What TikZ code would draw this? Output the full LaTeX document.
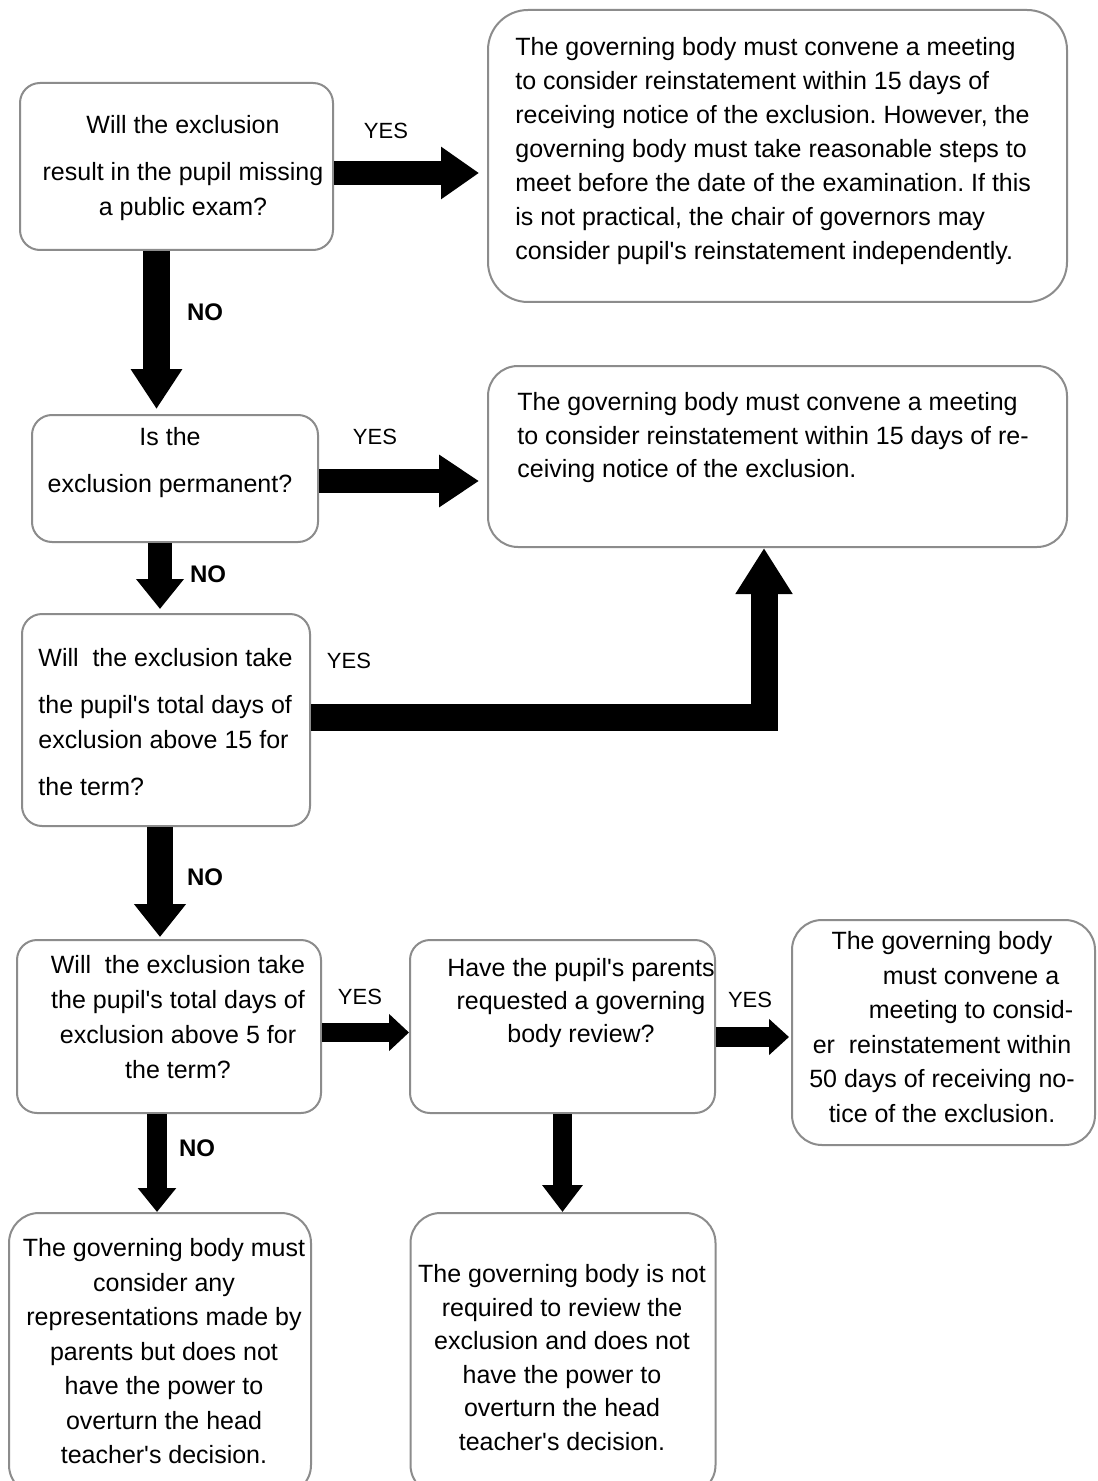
\documentclass[tikz,border=0pt]{standalone}
\usepackage{fontspec}
\setmainfont{Liberation Sans}
\usetikzlibrary{arrows.meta}
\newcommand{\apo}{\textquotesingle}
\frenchspacing
\begin{document}
\frenchspacing
\begin{tikzpicture}[x=0.5pt,y=-0.5pt,
  box/.style={draw=black!45, line width=1pt, rounded corners=10pt, inner sep=0pt},
  txt/.style={inner sep=0pt, text=black},
  yeslab/.style={inner sep=0pt, font=\fontsize{11}{13}\selectfont},
  nolab/.style={inner sep=0pt, font=\bfseries\fontsize{12}{14}\selectfont},
  blk/.style={draw=black, line join=miter, line cap=butt}]
\clip (0,0) rectangle (1097,1481);
\fill[white] (0,0) rectangle (1097,1481);

% boxes
\node[box, minimum width=156.5pt, minimum height=83.5pt] (b1) at (176.5,166.5) {};
\node[box, rounded corners=20pt, minimum width=289.5pt, minimum height=146pt] (r1) at (777.5,156) {};
\node[box, minimum width=143pt, minimum height=63.5pt] (b2) at (175,478.5) {};
\node[box, rounded corners=15pt, minimum width=289.5pt, minimum height=90.5pt] (r2) at (777.5,456.5) {};
\node[box, minimum width=144pt, minimum height=106pt] (b3) at (166,720) {};
\node[box, minimum width=152pt, minimum height=86.5pt] (b4) at (169,1026.5) {};
\node[box, minimum width=152.5pt, minimum height=86.5pt] (b5) at (562.5,1026.5) {};
\node[box, rounded corners=15pt, minimum width=151.5pt, minimum height=112.5pt] (r3) at (943.5,1032.5) {};
\node[box, rounded corners=15pt, minimum width=151pt, minimum height=141pt] (b6) at (160,1354) {};
\node[box, rounded corners=15pt, minimum width=152.5pt, minimum height=141pt] (b7) at (563,1354) {};

% texts
\node[txt, anchor=north west, align=left, font=\fontsize{12.5}{17}\selectfont] (t1) at (515,37)
 {The governing body must convene a meeting\\to consider reinstatement within 15 days of\\receiving notice of the exclusion. However, the\\governing body must take reasonable steps to\\meet before the date of the examination. If this\\is not practical, the chair of governors may\\consider pupil\apo s reinstatement independently.};
\node[txt, anchor=north west, align=left, font=\fontsize{12.5}{16.75}\selectfont] (t2) at (517,392)
 {The governing body must convene a meeting\\to consider reinstatement within 15 days of re-\\ceiving notice of the exclusion.};
\node[txt, anchor=north, align=center, font=\fontsize{12.5}{17.5}\selectfont] (tb1) at (183,115)
 {Will the exclusion\\[6pt]result in the pupil missing\\a public exam?};
\node[txt, anchor=north, align=center, font=\fontsize{12.5}{17.5}\selectfont] (tb2) at (170,427)
 {Is the\\[6pt]exclusion permanent?};
\node[txt, anchor=north west, align=left, font=\fontsize{12.5}{17.5}\selectfont] (tb3) at (38,648)
 {Will\ \ the exclusion take\\[6pt]the pupil\apo s total days of\\exclusion above 15 for\\[6pt]the term?};
\node[txt, anchor=north, align=center, font=\fontsize{12.5}{17.5}\selectfont] (tb4) at (178,955)
 {Will\ \ the exclusion take\\the pupil\apo s total days of\\exclusion above 5 for\\the term?};
\node[txt, anchor=north, align=center, font=\fontsize{12.5}{16.5}\selectfont] (tb5) at (581,958)
 {Have the pupil\apo s parents\\requested a governing\\body review?};
\node[txt, anchor=north, align=center, font=\fontsize{12.5}{17.25}\selectfont] (tr3) at (942,931)
 {The governing body\\\hspace*{29pt}must convene a\\\hspace*{29pt}meeting to consid-\\er\ \ reinstatement within\\50 days of receiving no-\\tice of the exclusion.};
\node[txt, anchor=north, align=center, font=\fontsize{12.5}{17.25}\selectfont] (tb6) at (164,1238)
 {The governing body must\\consider any\\representations made by\\parents but does not\\have the power to\\overturn the head\\teacher\apo s decision.};
\node[txt, anchor=north, align=center, font=\fontsize{12.5}{16.8}\selectfont] (tb7) at (562,1264)
 {The governing body is not\\required to review the\\exclusion and does not\\have the power to\\overturn the head\\teacher\apo s decision.};

% labels
\node[yeslab] (y1) at (386,131) {YES};
\node[nolab] (n1) at (205,312) {NO};
\node[yeslab] (y2) at (375,437) {YES};
\node[nolab] (n2) at (208,574) {NO};
\node[yeslab] (y3) at (349,661) {YES};
\node[nolab] (n3) at (205,877) {NO};
\node[yeslab] (y4) at (360,997) {YES};
\node[yeslab] (y5) at (750,1000) {YES};
\node[nolab] (n4) at (197,1148) {NO};

% arrows
\draw[blk, line width=12pt, -{Triangle[length=19pt,width=25pt]}, shorten >=4pt]
  (b1.east |- 0,173) -- (r1.west |- 0,173);
\draw[blk, line width=13.5pt, -{Triangle[length=20pt,width=24.5pt]}, shorten >=2.5pt]
  (b1.south -| 156.5,0) -- (b2.north -| 156.5,0);
\draw[blk, line width=12pt, -{Triangle[length=20pt,width=25pt]}, shorten >=4pt]
  (b2.east |- 0,481) -- (r2.west |- 0,481);
\draw[blk, line width=12pt, -{Triangle[length=15pt,width=23pt]}, shorten >=2pt]
  (b2.south -| 160,0) -- (b3.north -| 160,0);
\draw[blk, line width=13.5pt, -{Triangle[length=23pt,width=27pt]}]
  (b3.east |- 0,717.5) -| (r2.south -| 764,0);
\draw[blk, line width=13pt, -{Triangle[length=16.5pt,width=25pt]}, shorten >=1pt]
  (b3.south -| 160,0) -- (b4.north -| 160,0);
\draw[blk, line width=9.5pt, -{Triangle[length=10pt,width=18pt]}]
  (b4.east |- 0,1032.5) -- (b5.west |- 0,1032.5);
\draw[blk, line width=10pt, -{Triangle[length=10pt,width=17.5pt]}, shorten >=1pt]
  (b5.east |- 0,1037) -- (r3.west |- 0,1037);
\draw[blk, line width=10pt, -{Triangle[length=12pt,width=18.5pt]}]
  (b4.south -| 157,0) -- (b6.north -| 157,0);
\draw[blk, line width=9.5pt, -{Triangle[length=13.5pt,width=19.5pt]}]
  (b5.south -| 562.5,0) -- (b7.north -| 562.5,0);
\end{tikzpicture}
\end{document}
